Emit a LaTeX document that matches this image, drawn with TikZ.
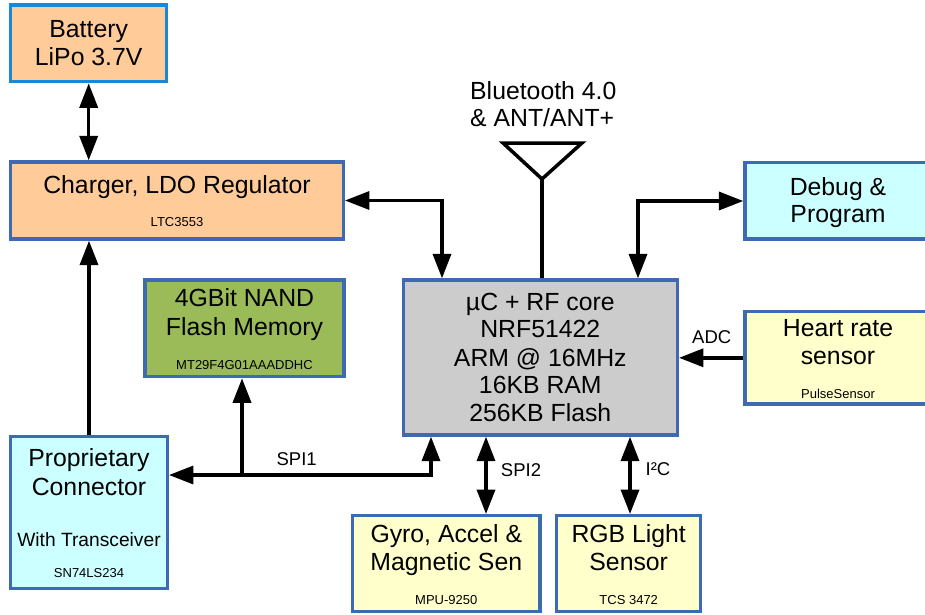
\documentclass[tikz,border=0pt]{standalone}
\usepackage{fontspec}
\setmainfont{Liberation Sans}
\usetikzlibrary{arrows.meta}
\definecolor{bord}{HTML}{3D6AB2}
\definecolor{bordb}{HTML}{1B88D6}
\definecolor{peach}{HTML}{FFCC99}
\definecolor{grayf}{HTML}{CCCCCC}
\definecolor{cyanf}{HTML}{CCFFFF}
\definecolor{yelf}{HTML}{FFFFCC}
\definecolor{greenf}{HTML}{9BBB59}
\begin{document}
\begin{tikzpicture}[x=1pt,y=-1pt,
  box/.style={draw=bord, line width=3.3pt, inner sep=0pt, outer sep=1.65pt},
  big/.style={font=\fontsize{24.8}{28}\selectfont, anchor=base, inner sep=0pt},
  small/.style={font=\fontsize{13}{15}\selectfont, anchor=base, inner sep=0pt},
  sig/.style={font=\fontsize{18.5}{21}\selectfont, anchor=base, inner sep=0pt},
  wire/.style={line width=3.5pt, >={Triangle[length=24.5pt,width=18pt]}}]
\useasboundingbox (0,0) rectangle (925,614);

% boxes
\node[box, draw=bordb, fill=peach, minimum width=156pt, minimum height=76.7pt] (bat) at (88.7,43.3) {};
\node[box, fill=peach, minimum width=332.6pt, minimum height=77pt] (chg) at (177,200.5) {};
\node[box, fill=greenf, minimum width=199pt, minimum height=96.7pt] (nand) at (244.5,328.3) {};
\node[box, fill=cyanf, minimum width=156.6pt, minimum height=151.6pt] (conn) at (89,512.5) {};
\node[box, fill=grayf, minimum width=274pt, minimum height=155pt] (ctr) at (540.3,357.5) {};
\node[box, fill=yelf, minimum width=187.3pt, minimum height=96pt] (gyro) at (446.3,563.7) {};
\node[box, fill=yelf, minimum width=144pt, minimum height=96pt] (rgb) at (628.7,563.7) {};
\node[box, fill=cyanf, minimum width=186pt, minimum height=76.3pt] (dbg) at (838,200.8) {};
\node[box, fill=yelf, minimum width=186pt, minimum height=92.3pt] (hr) at (838,357.8) {};

% texts
\node[big] (t1) at (88.7,37.3) {Battery};
\node[big] (t2) at (88.7,65) {LiPo 3.7V};
\node[big] (t3) at (177,193.3) {Charger, LDO Regulator};
\node[small] (t4) at (177,226.7) {LTC3553};
\node[big] (t5) at (244.5,306.7) {4GBit NAND};
\node[big] (t6) at (244.5,335) {Flash Memory};
\node[small] (t7) at (244.5,369.3) {MT29F4G01AAADDHC};
\node[big] (t8) at (89,466.7) {Proprietary};
\node[big] (t9) at (89,495) {Connector};
\node[font=\fontsize{19.2}{22}\selectfont, anchor=base, inner sep=0pt] (t10) at (89,546) {With Transceiver};
\node[small] (t11) at (89,577.7) {SN74LS234};
\node[big] (t12) at (540.3,310) {µC + RF core};
\node[big] (t13) at (540.3,337.7) {NRF51422};
\node[big] (t14) at (540.3,366) {ARM @ 16MHz};
\node[big] (t15) at (540.3,393.5) {16KB RAM};
\node[big] (t16) at (540.3,421.7) {256KB Flash};
\node[big] (t17) at (446.3,542.7) {Gyro, Accel \&};
\node[big] (t18) at (446.3,570.7) {Magnetic Sen};
\node[small] (t19) at (446.3,604) {MPU-9250};
\node[big] (t20) at (628.7,542.7) {RGB Light};
\node[big] (t21) at (628.7,570.7) {Sensor};
\node[small] (t22) at (628.7,604) {TCS 3472};
\node[big] (t23) at (838,195) {Debug \&};
\node[big] (t24) at (838,222.7) {Program};
\node[big] (t25) at (838,336.7) {Heart rate};
\node[big] (t26) at (838,364) {sensor};
\node[small] (t27) at (838,398.3) {PulseSensor};
\node[big, anchor=base west] (t28) at (470,99) {Bluetooth 4.0};
\node[big, anchor=base west] (t29) at (470,126) {\& ANT/ANT+};

% signal labels
\node[sig] (l1) at (296.7,465) {SPI1};
\node[sig] (l2) at (521,476) {SPI2};
\node[sig] (l3) at (658,475) {I²C};
\node[sig] (l4) at (711.7,343.3) {ADC};

% bend / branch points
\coordinate (k1) at (442,200.5);
\coordinate (k2) at (638,201);
\coordinate (k4) at (431,475);
\coordinate (k5) at (242,475);
\coordinate (k6) at (486,475);
\coordinate (k7) at (630,475);
\coordinate (a1) at (503,143);
\coordinate (a2) at (582,143);
\coordinate (a3) at (542,179);

% connectors
\draw[wire, <->] (bat.south) -- (bat.south |- chg.north);
\draw[wire, <->] (chg.east |- k1) -- (k1) -- (k1 |- ctr.north);
\draw[wire, <->] (dbg.west |- k2) -- (k2) -- (k2 |- ctr.north);
\draw[wire, ->] (hr.west) -- (hr.west -| ctr.east);
\draw[wire, ->] (conn.north) -- (conn.north |- chg.south);
\draw[wire, <->] (conn.east |- k4) -- (k4) -- (k4 |- ctr.south);
\draw[wire, ->] (k5) -- (k5 |- nand.south);
\draw[wire, <->] (k6 |- ctr.south) -- (k6 |- gyro.north);
\draw[wire, <->] (k7 |- ctr.south) -- (k7 |- rgb.north);

% antenna
\draw[line width=3.5pt, line join=miter] (a1) -- (a2) -- (a3) -- cycle;
\draw[line width=3.5pt] (a3) -- (a3 |- ctr.north);
\end{tikzpicture}
\end{document}
